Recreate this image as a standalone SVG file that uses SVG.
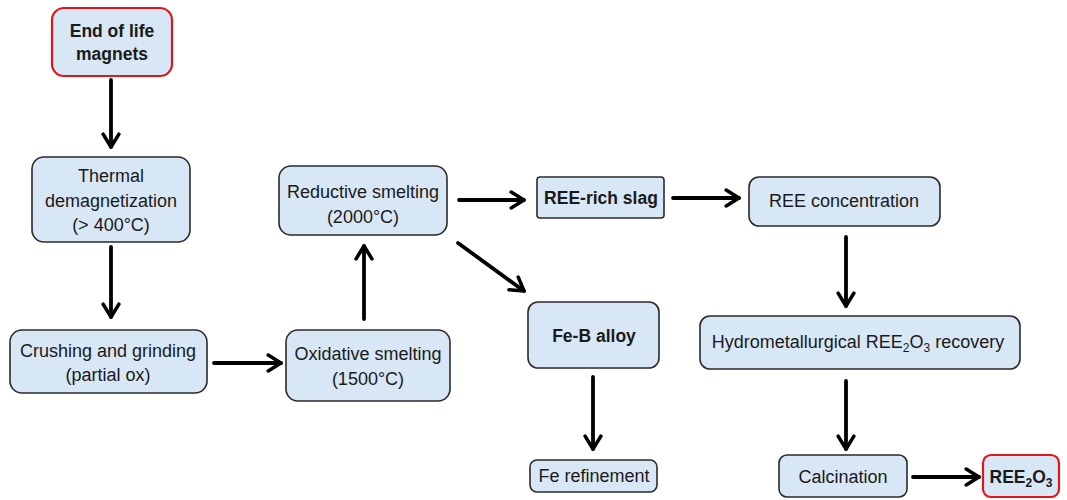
<svg xmlns="http://www.w3.org/2000/svg" width="1067" height="500" viewBox="0 0 1067 500">
<defs>
<marker id="ah" viewBox="0 0 20 20" refX="16" refY="10" markerWidth="5.2" markerHeight="5.2" markerUnits="strokeWidth" orient="auto">
<path d="M3,2 L16,10 L3,18" fill="none" stroke="#000" stroke-width="3.6" stroke-linecap="round" stroke-linejoin="round"/>
</marker>
</defs>
<style>
.box{fill:#d8e7f5;stroke:#2a2a2a;stroke-width:1.6}
.red{fill:#d8e7f5;stroke:#e0161b;stroke-width:2.2}
text{font-family:"Liberation Sans",Arial,sans-serif;font-size:18px;fill:#1a1a1a;text-anchor:middle}
.b{font-weight:bold;font-size:17.5px}
.c line{stroke:#000;stroke-width:3.8;stroke-linecap:round;marker-end:url(#ah)}
</style>
<rect width="1067" height="500" fill="#fff"/>
<g id="n1"><rect class="red" x="52" y="8" width="120" height="68" rx="12"/><text class="b" x="112" y="37">End of life</text><text class="b" x="112" y="60">magnets</text></g>
<g id="n2"><rect class="box" x="32" y="157" width="158" height="85" rx="12"/><text x="111" y="182">Thermal</text><text x="111" y="207">demagnetization</text><text x="111" y="231">(&gt; 400°C)</text></g>
<g id="n3"><rect class="box" x="10" y="330" width="197" height="63" rx="12"/><text x="108" y="357">Crushing and grinding</text><text x="108" y="381">(partial ox)</text></g>
<g id="n4"><rect class="box" x="286" y="330" width="164" height="71" rx="12"/><text x="368" y="360">Oxidative smelting</text><text x="368" y="385">(1500°C)</text></g>
<g id="n5"><rect class="box" x="279" y="166" width="168" height="69" rx="12"/><text x="363" y="198">Reductive smelting</text><text x="363" y="223">(2000°C)</text></g>
<g id="n6"><rect class="box" x="537" y="177" width="127" height="41" rx="3"/><text class="b" x="601" y="204">REE-rich slag</text></g>
<g id="n7"><rect class="box" x="749" y="177" width="191" height="49" rx="10"/><text x="844" y="207">REE concentration</text></g>
<g id="n8"><rect class="box" x="528" y="302" width="131" height="66" rx="10"/><text class="b" x="594" y="342">Fe-B alloy</text></g>
<g id="n9"><rect class="box" x="700" y="316" width="320" height="53" rx="10"/><text x="858" y="348">Hydrometallurgical REE<tspan font-size="12" dy="4">2</tspan><tspan dy="-4">O</tspan><tspan font-size="12" dy="4">3</tspan><tspan dy="-4"> recovery</tspan></text></g>
<g id="n10"><rect class="box" x="530" y="460" width="127" height="32" rx="7"/><text x="594" y="482">Fe refinement</text></g>
<g id="n11"><rect class="box" x="779" y="455" width="128" height="42" rx="8"/><text x="843" y="483">Calcination</text></g>
<g id="n12"><rect class="red" x="983" y="455" width="76" height="42" rx="8"/><text class="b" x="1021" y="483">REE<tspan font-size="12" dy="4">2</tspan><tspan dy="-4">O</tspan><tspan font-size="12" dy="4">3</tspan></text></g>
<g id="connectors" class="c">
<line x1="111" y1="80" x2="111" y2="147"/>
<line x1="111" y1="247" x2="111" y2="317"/>
<line x1="214" y1="363" x2="281" y2="363"/>
<line x1="364" y1="319" x2="364" y2="246"/>
<line x1="459" y1="200" x2="524" y2="200"/>
<line x1="458" y1="243" x2="524" y2="291"/>
<line x1="673" y1="198" x2="739" y2="198"/>
<line x1="846" y1="237" x2="846" y2="306"/>
<line x1="593" y1="377" x2="593" y2="449"/>
<line x1="846" y1="381" x2="846" y2="449"/>
<line x1="913" y1="477" x2="979" y2="477"/>
</g>
</svg>
